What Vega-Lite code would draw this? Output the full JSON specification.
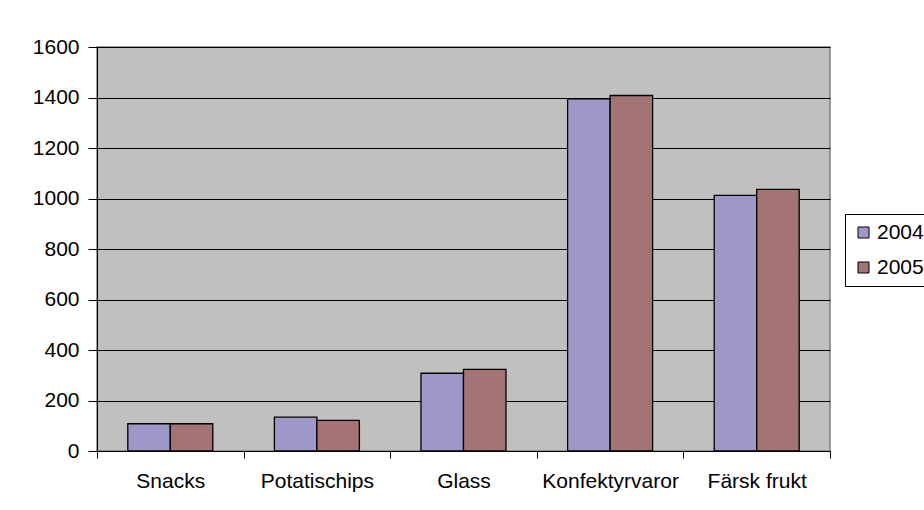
{
  "$schema": "https://vega.github.io/schema/vega-lite/v6.json",
  "width": 733,
  "height": 404,
  "autosize": "none",
  "padding": {"left": 97, "top": 47, "right": 94, "bottom": 59},
  "background": "white",
  "data": {
    "values": [
      {"kategori": "Snacks", "ar": "2004", "varde": 108},
      {"kategori": "Snacks", "ar": "2005", "varde": 108},
      {"kategori": "Potatischips", "ar": "2004", "varde": 134},
      {"kategori": "Potatischips", "ar": "2005", "varde": 121},
      {"kategori": "Glass", "ar": "2004", "varde": 308},
      {"kategori": "Glass", "ar": "2005", "varde": 323},
      {"kategori": "Konfektyrvaror", "ar": "2004", "varde": 1395},
      {"kategori": "Konfektyrvaror", "ar": "2005", "varde": 1408},
      {"kategori": "Färsk frukt", "ar": "2004", "varde": 1012},
      {"kategori": "Färsk frukt", "ar": "2005", "varde": 1036}
    ]
  },
  "mark": {"type": "bar", "stroke": "black", "strokeWidth": 1.3},
  "encoding": {
    "x": {
      "field": "kategori",
      "type": "nominal",
      "sort": ["Snacks", "Potatischips", "Glass", "Konfektyrvaror", "Färsk frukt"],
      "scale": {"paddingInner": 0, "paddingOuter": 0},
      "axis": {
        "title": null,
        "labelAngle": 0,
        "tickBand": "extent",
        "tickSize": 7,
        "tickColor": "black",
        "domainColor": "black",
        "labelFontSize": 21,
        "labelPadding": 12,
        "grid": false
      }
    },
    "xOffset": {
      "field": "ar",
      "type": "nominal",
      "scale": {"paddingInner": 0, "paddingOuter": 0.725}
    },
    "y": {
      "field": "varde",
      "type": "quantitative",
      "scale": {"domain": [0, 1600], "nice": false},
      "axis": {
        "title": null,
        "values": [0, 200, 400, 600, 800, 1000, 1200, 1400, 1600],
        "format": "d",
        "tickSize": 9,
        "tickColor": "black",
        "domainColor": "black",
        "labelFontSize": 21,
        "labelPadding": 9,
        "grid": true,
        "gridColor": "black",
        "gridOpacity": 1
      }
    },
    "color": {
      "field": "ar",
      "type": "nominal",
      "scale": {"domain": ["2004", "2005"], "range": ["#9E98C9", "#A47373"]},
      "legend": {
        "title": null,
        "orient": "none",
        "legendX": 748,
        "legendY": 167,
        "strokeColor": "black",
        "fillColor": "white",
        "padding": 8,
        "symbolType": "square",
        "symbolSize": 121,
        "symbolStrokeColor": "black",
        "symbolStrokeWidth": 1,
        "labelFontSize": 21,
        "labelOffset": 3,
        "rowPadding": 13
      }
    }
  },
  "config": {
    "font": "Liberation Sans",
    "view": {"fill": "#C0C0C0", "stroke": "#808080", "strokeWidth": 1.5},
    "axis": {"labelColor": "black", "labelFont": "Liberation Sans", "domainWidth": 1, "tickWidth": 1},
    "legend": {"labelColor": "black", "labelFont": "Liberation Sans"}
  }
}
